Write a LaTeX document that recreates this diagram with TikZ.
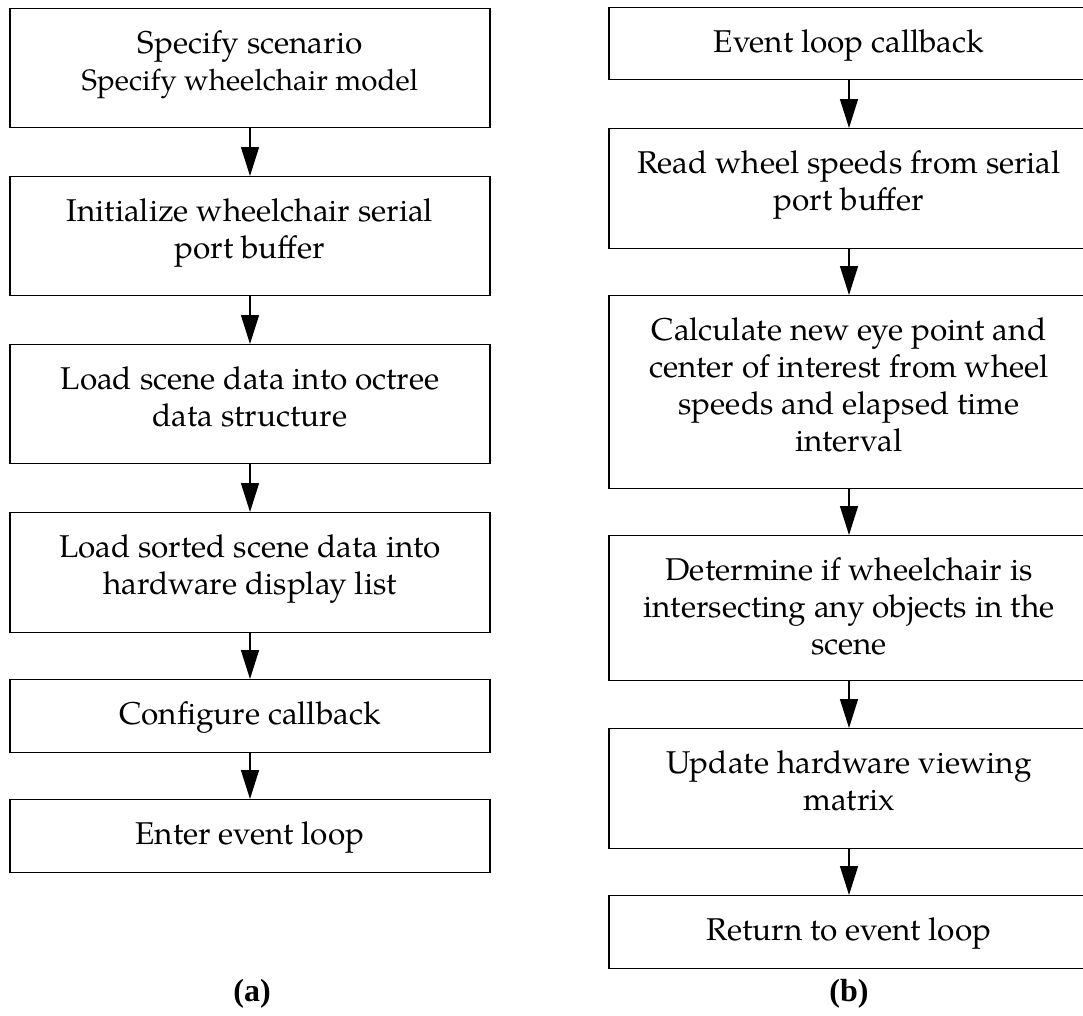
\documentclass[tikz,border=0pt]{standalone}
\usepackage{fontspec}
\setmainfont{TeX Gyre Pagella}
\newfontfamily\lblfont{Liberation Serif}
\usetikzlibrary{arrows.meta}
\newcommand\firstln{\rule{0pt}{24pt}}
\newcommand\smallln{\fontsize{29.5}{37}\selectfont}
\begin{document}
\begin{tikzpicture}[x=1pt,y=-1pt,
  box/.style={draw, line width=1.4pt, minimum width=480pt, inner sep=0pt, anchor=north},
  txt/.style={anchor=north, align=center, inner sep=0pt, font=\fontsize{31.5}{37}\selectfont},
  arr/.style={line width=1.4pt, -{Triangle[length=29pt,width=18pt]}},
  lbl/.style={font=\lblfont\fontsize{32}{36}\selectfont\bfseries}]
\useasboundingbox (0,0) rectangle (1083,1015);
% left column (a)
\node[box, minimum height=119pt] (L1) at (250,8) {};
\node[box, minimum height=119pt] (L2) at (250,176) {};
\node[box, minimum height=119pt] (L3) at (250,344) {};
\node[box, minimum height=120pt] (L4) at (250,512) {};
\node[box, minimum height=73pt] (L5) at (250,679) {};
\node[box, minimum height=73pt] (L6) at (250,799) {};
\node[txt] (L1t) at (250,29) {\firstln Specify scenario\\\smallln Specify wheelchair model};
\node[txt] (L2t) at (250,197) {\firstln Initialize wheelchair serial\\port buffer};
\node[txt] (L3t) at (250,365) {\firstln Load scene data into octree\\data structure};
\node[txt] (L4t) at (250,533) {\firstln Load sorted scene data into\\hardware display list};
\node[txt] (L5t) at (250,700) {\firstln Configure callback};
\node[txt] (L6t) at (250,820) {\firstln Enter event loop};
\draw[arr] (L1.south) -- (L2.north);
\draw[arr] (L2.south) -- (L3.north);
\draw[arr] (L3.south) -- (L4.north);
\draw[arr] (L4.south) -- (L5.north);
\draw[arr] (L5.south) -- (L6.north);
\node[lbl] (la) at (252,994) {(a)};
% right column (b)
\node[box, minimum height=72pt] (R1) at (849,7) {};
\node[box, minimum height=120pt] (R2) at (849,128) {};
\node[box, minimum height=193pt] (R3) at (849,295) {};
\node[box, minimum height=145pt] (R4) at (849,535) {};
\node[box, minimum height=120pt] (R5) at (849,728) {};
\node[box, minimum height=73pt] (R6) at (849,895) {};
\node[txt] (R1t) at (849,28) {\firstln Event loop callback};
\node[txt] (R2t) at (849,149) {\firstln Read wheel speeds from serial\\port buffer};
\node[txt] (R3t) at (849,316) {\firstln Calculate new eye point and\\center of interest from wheel\\speeds and elapsed time\\interval};
\node[txt] (R4t) at (849,556) {\firstln Determine if wheelchair is\\intersecting any objects in the\\scene};
\node[txt] (R5t) at (849,749) {\firstln Update hardware viewing\\matrix};
\node[txt] (R6t) at (849,916) {\firstln Return to event loop};
\draw[arr] (R1.south) -- (R2.north);
\draw[arr] (R2.south) -- (R3.north);
\draw[arr] (R3.south) -- (R4.north);
\draw[arr] (R4.south) -- (R5.north);
\draw[arr] (R5.south) -- (R6.north);
\node[lbl] (lb) at (849,994) {(b)};
\end{tikzpicture}
\end{document}
